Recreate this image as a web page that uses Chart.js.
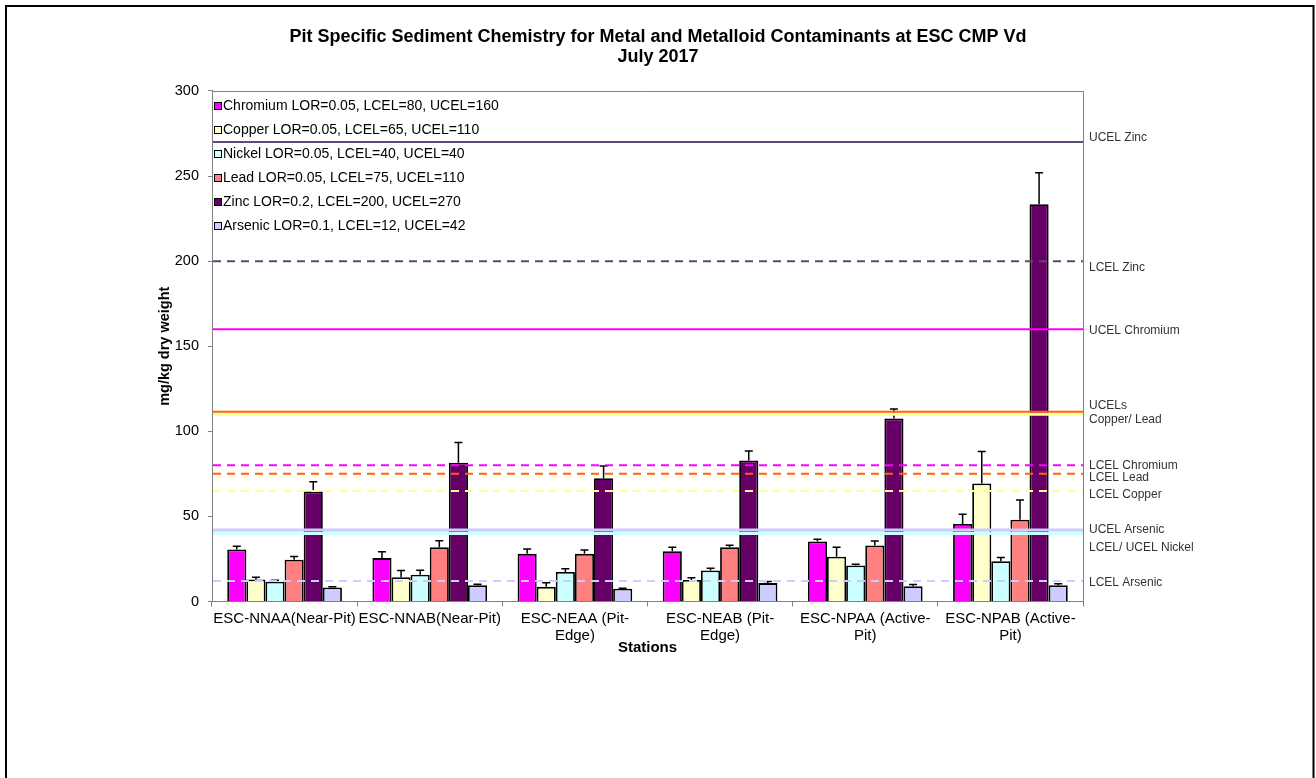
<!DOCTYPE html>
<html><head><meta charset="utf-8">
<script src="https://cdn.jsdelivr.net/npm/chart.js@4/dist/chart.umd.min.js"></script>
<style>html,body{margin:0;padding:0;background:#fff;overflow:hidden}canvas{display:block}</style>
</head><body>
<canvas id="c" width="1316" height="778"></canvas>
<script>
// ---------- DATA ----------
const titleLines = ['Pit Specific Sediment Chemistry for Metal and Metalloid Contaminants at ESC CMP Vd', 'July 2017'];
const stations = [['ESC-NNAA(Near-Pit)'], ['ESC-NNAB(Near-Pit)'], ['ESC-NEAA (Pit-', 'Edge)'], ['ESC-NEAB (Pit-', 'Edge)'], ['ESC-NPAA (Active-', 'Pit)'], ['ESC-NPAB (Active-', 'Pit)']];
const seriesNames = ['Chromium LOR=0.05, LCEL=80, UCEL=160', 'Copper LOR=0.05, LCEL=65, UCEL=110', 'Nickel LOR=0.05, LCEL=40, UCEL=40', 'Lead LOR=0.05, LCEL=75, UCEL=110', 'Zinc LOR=0.2, LCEL=200, UCEL=270', 'Arsenic LOR=0.1, LCEL=12, UCEL=42'];
const chromium = [30.6, 25.5, 28.0, 29.6, 35.3, 45.5];
const copper   = [12.9, 14.3, 8.6, 12.7, 26.3, 69.4];
const nickel   = [11.6, 15.7, 17.3, 18.2, 21.2, 23.7];
const lead     = [24.5, 31.9, 28.0, 31.9, 32.9, 48.1];
const zinc     = [64.7, 81.6, 72.4, 82.9, 107.5, 233.5];
const arsenic  = [8.2, 9.6, 7.5, 10.8, 9.0, 9.6];
const chromiumErr = [1.9, 3.7, 2.8, 2.3, 1.3, 5.7];
const copperErr   = [1.4, 3.9, 2.4, 1.2, 5.6, 18.8];
const nickelErr   = [0.9, 2.7, 1.9, 1.4, 0.7, 2.2];
const leadErr     = [2.0, 3.8, 2.2, 1.2, 2.6, 11.5];
const zincErr     = [5.7, 11.9, 7.2, 5.5, 5.6, 18.4];
const arsenicErr  = [0.4, 0.6, 0.3, 1.0, 1.0, 0.8];
const thresholdNames  = ['UCEL Zinc', 'LCEL Zinc', 'UCEL Chromium', 'UCEL Copper', 'UCEL Lead', 'LCEL Chromium', 'LCEL Lead', 'LCEL Copper', 'UCEL Nickel', 'UCEL Arsenic', 'LCEL Arsenic'];
const thresholdValues = [270, 200, 160, 110, 111.5, 80, 75, 65, 40, 42, 12];
const sideLabelTexts   = ['UCEL Zinc', 'LCEL Zinc', 'UCEL Chromium', 'UCELs', 'Copper/ Lead', 'LCEL Chromium', 'LCEL Lead', 'LCEL Copper', 'UCEL Arsenic', 'LCEL/ UCEL Nickel', 'LCEL Arsenic'];
const sideLabelAnchors = [270, 200, 160, 110, 110, 80, 75, 65, 42, 40, 12];
const yTicks = [0, 50, 100, 150, 200, 250, 300];
const yTitle = 'mg/kg dry weight';
const xTitle = 'Stations';

// ---------- STYLE ----------
const F = "'Liberation Sans', Arial, sans-serif";
const seriesColors = ['#FF00FF', '#FFFFCC', '#CCFFFF', '#FF8080', '#660066', '#CCCCFF'];
const thresholdStyles = [
  {c:'#604A7B', w:2, d:[]}, {c:'#604A7B', w:2, d:[8,6]}, {c:'#FF00FF', w:2, d:[]},
  {c:'#FFFF99', w:3, d:[]}, {c:'#FF6600', w:2, d:[]}, {c:'#FF00FF', w:2, d:[8,6]},
  {c:'#FF6600', w:2, d:[8,6]}, {c:'#FFFF99', w:2, d:[8,6]}, {c:'#CCFFFF', w:3, d:[]},
  {c:'#CCCCFF', w:3, d:[]}, {c:'#CCCCFF', w:2, d:[8,6]}
];
const sideLabelDy = [-4, 7, 1, -9, 5, 0.5, 3.5, 3.5, -0.5, 14.5, 1.5];

const values = [chromium, copper, nickel, lead, zinc, arsenic];
const errors = [chromiumErr, copperErr, nickelErr, leadErr, zincErr, arsenicErr];

const bgPlugin = {
  id: 'bg',
  beforeDraw(chart) {
    const c = chart.ctx; c.save(); c.fillStyle = '#fff'; c.fillRect(0, 0, chart.width, chart.height); c.restore();
  },
  beforeDatasetsDraw(chart) {
    const c = chart.ctx, a = chart.chartArea;
    c.save(); c.strokeStyle = '#808080'; c.lineWidth = 1;
    c.beginPath(); c.moveTo(a.left, a.top + 0.5); c.lineTo(a.right + 0.5, a.top + 0.5); c.lineTo(a.right + 0.5, a.bottom); c.stroke();
    c.restore();
  }
};

const errPlugin = {
  id: 'err',
  afterDatasetsDraw(chart) {
    const c = chart.ctx, ys = chart.scales.y;
    c.save(); c.strokeStyle = '#000'; c.lineWidth = 1.5;
    chart.data.datasets.forEach((ds, di) => {
      const meta = chart.getDatasetMeta(di);
      meta.data.forEach((bar, i) => {
        const top = ys.getPixelForValue(values[di][i] + errors[di][i]);
        c.beginPath(); c.moveTo(bar.x, bar.y); c.lineTo(bar.x, top);
        c.moveTo(bar.x - 4, top); c.lineTo(bar.x + 4, top); c.stroke();
      });
    });
    // threshold lines
    const a = chart.chartArea;
    thresholdValues.forEach((v, i) => {
      const s = thresholdStyles[i], y = ys.getPixelForValue(v);
      c.strokeStyle = s.c; c.lineWidth = s.w; c.setLineDash(s.d);
      c.beginPath(); c.moveTo(a.left + 1, y); c.lineTo(a.right, y); c.stroke();
    });
    c.restore();
  }
};

const annoPlugin = {
  id: 'anno',
  afterDraw(chart) {
    const c = chart.ctx, a = chart.chartArea, ys = chart.scales.y;
    c.save();
    // side labels
    c.font = '12px ' + F; c.fillStyle = '#333'; c.textBaseline = 'middle'; c.textAlign = 'left';
    sideLabelTexts.forEach((t, i) => {
      c.fillText(t, a.right + 6, ys.getPixelForValue(sideLabelAnchors[i]) + sideLabelDy[i]);
    });
    // legend
    c.font = '14px ' + F;
    chart.data.datasets.forEach((ds, i) => {
      const y = a.top + 15 + i * 24;
      c.fillStyle = ds.backgroundColor; c.fillRect(a.left + 2.5, y - 3.5, 7, 7);
      c.strokeStyle = '#000'; c.lineWidth = 1; c.strokeRect(a.left + 2.5, y - 3.5, 7, 7);
      c.fillStyle = '#000'; c.fillText(ds.label, a.left + 11, y + 0.5);
    });
    // outer frame
    c.strokeStyle = '#000'; c.lineWidth = 2;
    c.beginPath(); c.moveTo(6, chart.height + 5); c.lineTo(6, 6); c.lineTo(1313.5, 6); c.lineTo(1313.5, chart.height + 5); c.stroke();
    c.restore();
  }
};

new Chart(document.getElementById('c'), {
  type: 'bar',
  data: {
    labels: stations,
    datasets: seriesNames.map((n, i) => ({
      label: n, data: values[i], backgroundColor: seriesColors[i],
      borderColor: '#000', borderWidth: 1.8, categoryPercentage: 0.79, barPercentage: 1
    }))
  },
  options: {
    responsive: false, animation: false, devicePixelRatio: 1,
    layout: { padding: { left: 0, right: 0, top: 0, bottom: 121.5 } },
    plugins: {
      legend: { display: false }, tooltip: { enabled: false },
      title: { display: true, text: titleLines, color: '#000', font: { family: F, size: 18, weight: 'bold', lineHeight: 1.111 }, padding: { top: 27, bottom: 24 } }
    },
    scales: {
      x: {
        grid: { drawOnChartArea: false, tickLength: 5, color: '#808080', offset: true },
        border: { color: '#808080' },
        ticks: { font: { family: F, size: 15, lineHeight: 1.13 }, color: '#000', padding: 4, autoSkip: false, maxRotation: 0, minRotation: 0 },
        title: { display: true, text: xTitle, color: '#000', font: { family: F, size: 15, weight: 'bold', lineHeight: 1.2 }, padding: 0 },
        afterFit: s => { s.height = 55; }
      },
      y: {
        min: 0, max: 300,
        afterBuildTicks: s => { s.ticks = yTicks.map(v => ({ value: v })); },
        grid: { drawOnChartArea: false, tickLength: 4, color: '#808080' },
        border: { color: '#808080' },
        ticks: { font: { family: F, size: 14.5 }, color: '#000', padding: 9 },
        title: { display: true, text: yTitle, color: '#000', font: { family: F, size: 14.5, weight: 'bold', lineHeight: 1.2 }, padding: { top: 156, bottom: 0 } },
        afterFit: s => { s.width = 212; }
      },
      yR: {
        type: 'linear', position: 'right', display: true,
        grid: { display: false }, border: { display: false }, ticks: { display: false },
        afterFit: s => { s.width = 233; }
      }
    }
  },
  plugins: [bgPlugin, errPlugin, annoPlugin]
});
</script>
</body></html>
